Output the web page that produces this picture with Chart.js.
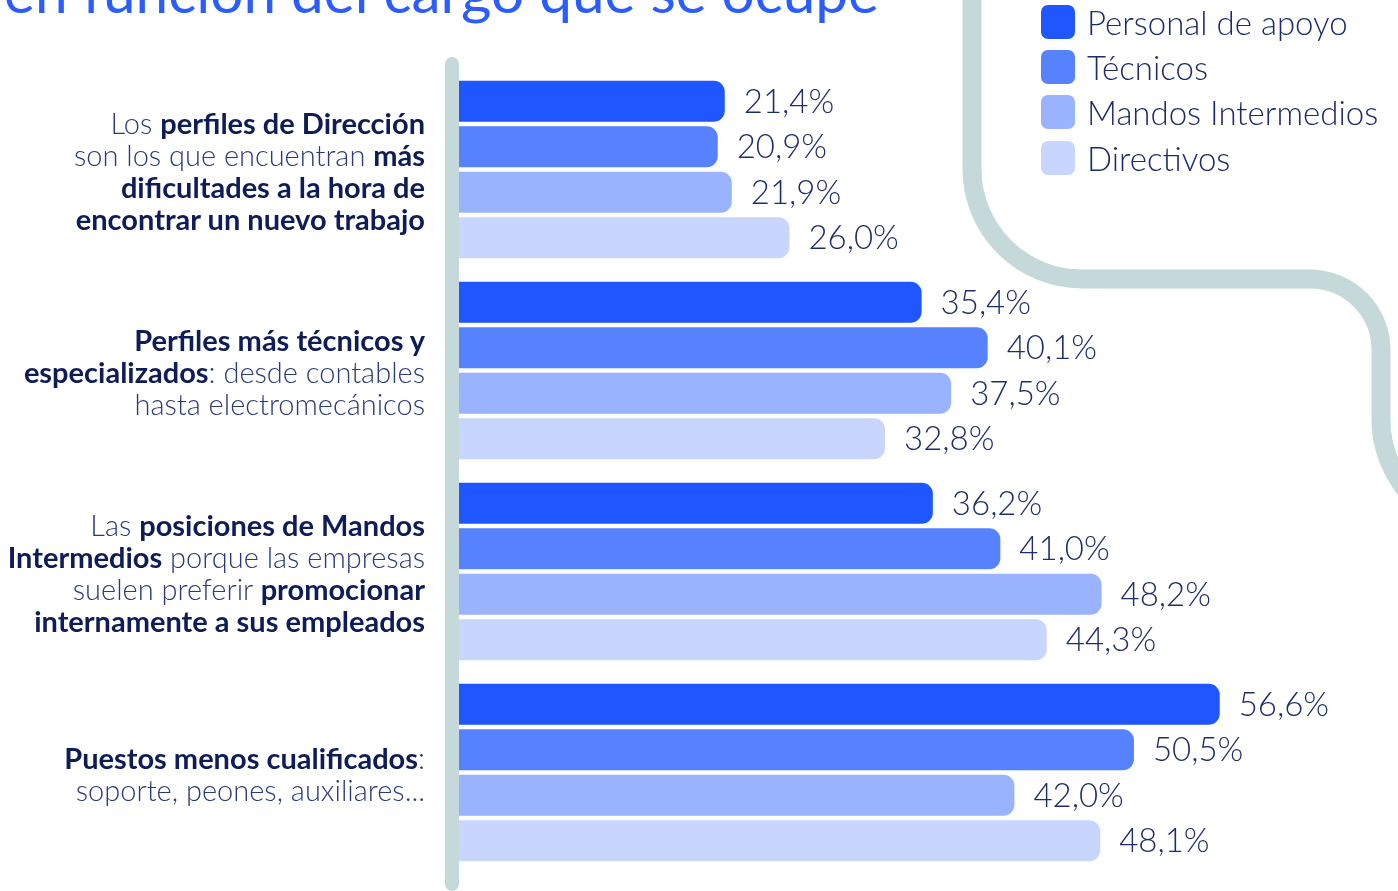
<!DOCTYPE html>
<html>
<head>
<meta charset="utf-8">
<script src="https://cdn.jsdelivr.net/npm/chart.js@4.4.1/dist/chart.umd.min.js"></script>
<style>
  html, body { margin: 0; padding: 0; background: #fff; overflow: hidden; }
  #wrap { position: relative; width: 1398px; height: 891px; font-family: Lato, "Open Sans", sans-serif; }
  #chart1 { position: absolute; left: 0; top: 0; }
  #title { position: absolute; left: 4px; top: -45px; font-size: 58.5px; line-height: 1.2; color: #2b5cff; white-space: nowrap; font-weight: 400; }
  .cat { position: absolute; right: 973px; text-align: right; font-size: 29px; line-height: 32px; color: #2a3a7a; font-weight: 300; white-space: nowrap; transform: translateY(-50%); }
  .cat b { font-weight: 700; color: #0e1c58; }
  #legend { position: absolute; left: 1041px; top: -1px; }
  .leg { height: 45.3px; display: flex; align-items: center; font-size: 33px; font-weight: 300; color: #1c2b6b; white-space: nowrap; }
  .leg span.box { width: 34px; height: 34px; border-radius: 7px; margin-right: 12px; display: inline-block; }
</style>
</head>
<body>
<div id="wrap">
  <canvas id="chart1" width="1398" height="891"></canvas>
  <div id="title">en función del cargo que se ocupe</div>
  <div id="legend"></div>
</div>
<script>
// categories (lines split as in the picture, **...** = bold)
var categories = [
  "Los **perfiles de Dirección**\nson los que encuentran **más**\n**dificultades a la hora de**\n**encontrar un nuevo trabajo**",
  "**Perfiles más técnicos y**\n**especializados**: desde contables\nhasta electromecánicos",
  "Las **posiciones de Mandos**\n**Intermedios** porque las empresas\nsuelen preferir **promocionar**\n**internamente a sus empleados**",
  "**Puestos menos cualificados**:\nsoporte, peones, auxiliares..."
];

var seriesNames = ["Personal de apoyo", "Técnicos", "Mandos Intermedios", "Directivos"];
var seriesColors = ["#1f56ff", "#5682ff", "#9ab3ff", "#c8d6fd"];

var personalApoyo = [21.4, 35.4, 36.2, 56.6];
var tecnicos = [20.9, 40.1, 41.0, 50.5];
var mandosIntermedios = [21.9, 37.5, 48.2, 42.0];
var directivos = [26.0, 32.8, 44.3, 48.1];

var seriesValues = [personalApoyo, tecnicos, mandosIntermedios, directivos];

function fmt(v) {
  return v.toFixed(1).replace(".", ",") + "%";
}

function toHtml(label) {
  return label.split("\n").map(function(line) {
    return line.replace(/\*\*(.+?)\*\*/g, "<b>$1</b>");
  }).join("<br>");
}

// left labels as html, positioned from the y scale
var wrap = document.getElementById("wrap");
var catDivs = categories.map(function(c) {
  var d = document.createElement("div");
  d.className = "cat";
  d.innerHTML = toHtml(c);
  wrap.appendChild(d);
  return d;
});

// legend
var legend = document.getElementById("legend");
seriesNames.forEach(function(n, i) {
  var row = document.createElement("div");
  row.className = "leg";
  row.innerHTML = '<span class="box" style="background:' + seriesColors[i] + '"></span>' + n;
  legend.appendChild(row);
});

var decor = {
  id: "decor",
  beforeDraw: function(chart) {
    var ctx = chart.ctx;
    ctx.save();
    ctx.strokeStyle = "#c5d9da";
    ctx.lineWidth = 19;
    ctx.lineCap = "round";
    ctx.beginPath();
    ctx.moveTo(972, -20);
    ctx.lineTo(972, 170);
    ctx.arcTo(972, 279, 1082, 279, 110);
    ctx.lineTo(1310, 279);
    ctx.arcTo(1381, 279, 1381, 350, 71);
    ctx.lineTo(1381, 420);
    ctx.quadraticCurveTo(1381, 460, 1410, 495);
    ctx.stroke();
    ctx.restore();
  },
  afterLayout: function(chart) {
    var y = chart.scales.y;
    catDivs.forEach(function(d, i) {
      d.style.top = (y.getPixelForValue(i) + 1) + "px";
    });
  },
  afterDatasetsDraw: function(chart) {
    var ctx = chart.ctx;
    var area = chart.chartArea;
    ctx.save();
    // vertical axis bar
    ctx.strokeStyle = "#c5d9da";
    ctx.lineWidth = 14;
    ctx.lineCap = "round";
    ctx.beginPath();
    ctx.moveTo(area.left - 7, 64);
    ctx.lineTo(area.left - 7, 884);
    ctx.stroke();
    // value labels
    ctx.font = "300 33px Lato";
    ctx.fillStyle = "#1e2d6b";
    ctx.textBaseline = "middle";
    chart.data.datasets.forEach(function(ds, i) {
      chart.getDatasetMeta(i).data.forEach(function(bar, j) {
        ctx.fillText(fmt(ds.data[j]), bar.x + 19, bar.y + 1);
      });
    });
    ctx.restore();
  }
};

new Chart(document.getElementById("chart1"), {
  type: "bar",
  data: {
    labels: categories,
    datasets: seriesNames.map(function(n, i) {
      return {
        label: n,
        data: seriesValues[i],
        backgroundColor: seriesColors[i],
        borderRadius: 11,
        borderSkipped: "start",
        barPercentage: 0.9,
        categoryPercentage: 0.905,
        clip: 0
      };
    })
  },
  options: {
    indexAxis: "y",
    responsive: false,
    animation: false,
    layout: { padding: { left: 459, top: 69, bottom: 18, right: 18 } },
    scales: {
      x: { display: false, min: 2.5, max: 68 },
      y: { display: false }
    },
    plugins: {
      legend: { display: false },
      tooltip: { enabled: false }
    }
  },
  plugins: [decor]
});
</script>
</body>
</html>
